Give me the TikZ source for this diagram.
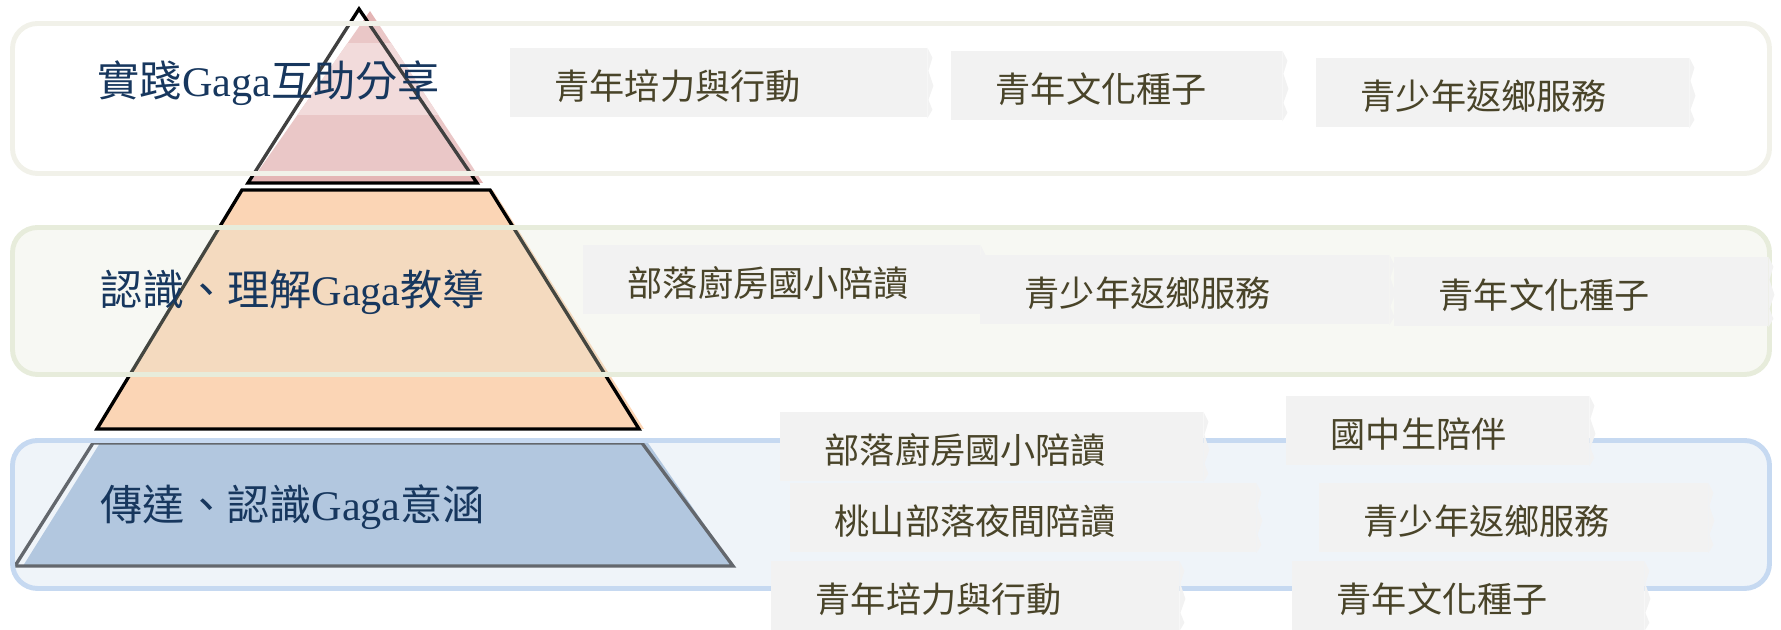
\documentclass[tikz,border=0pt]{standalone}
\usepackage{fontspec}
\setmainfont{Liberation Serif}
\newfontfamily\cjk{Noto Sans CJK TC}
\usetikzlibrary{positioning}

\definecolor{labelblue}{HTML}{17375E}
\definecolor{tagtext}{HTML}{494429}
\definecolor{tagfill}{HTML}{F2F2F2}
\definecolor{pinkfill}{HTML}{E4B5B5}
\definecolor{pinkstripe}{HTML}{EECFCF}
\definecolor{orangefill}{HTML}{FBD5B5}
\definecolor{bluefill}{HTML}{91AFD1}
\definecolor{bandone}{HTML}{F1F1E9}
\definecolor{bandtwo}{HTML}{E7ECDB}
\definecolor{bandtwofill}{HTML}{E4E8D7}
\definecolor{bandthree}{HTML}{C6D9F1}
\definecolor{bandthreefill}{HTML}{DCE6F2}

\begin{document}
\begin{tikzpicture}[
    band/.style={line width=1.4pt, rounded corners=0.25cm},
    pyr/.style={line width=0.95pt, black},
    layer/.style={anchor=west, inner sep=0pt, text=labelblue, font=\fontsize{12}{14}\selectfont},
    tag/.style={anchor=west, fill=tagfill, text=tagtext, font=\cjk\fontsize{10}{12}\selectfont,
        minimum height=0.69cm, inner xsep=0.45cm, inner ysep=0pt, align=left,
        text height=0.36cm, text depth=0.02cm,
        append after command={\pgfextra{\fill[tagfill] (\tikzlastnode.north east) -- ++(0.05,-0.1)
            -- ++(-0.04,-0.13) -- ++(0.05,-0.15) -- ++(-0.05,-0.14) -- ++(0.04,-0.1)
            -- (\tikzlastnode.south east) -- cycle;}}}
    ]
    \useasboundingbox (0,0) rectangle (17.81,6.30);

    % pyramid
    \fill[pinkfill] (3.70,6.19) -- (2.50,4.47) -- (4.83,4.47) -- cycle;
    \begin{scope}
        \clip (3.70,6.19) -- (2.50,4.47) -- (4.83,4.47) -- cycle;
        \fill[pinkstripe] (2,5.15) rectangle (5,5.87);
    \end{scope}
    \draw[pyr] (3.59,6.21) -- (2.48,4.47) -- (4.77,4.47) -- cycle;

    \fill[orangefill] (2.44,4.40) -- (4.93,4.40) -- (6.44,2.01) -- (0.95,2.01) -- cycle;
    \draw[pyr] (2.42,4.40) -- (4.90,4.40) -- (6.39,2.01) -- (0.97,2.01) -- cycle;

    \fill[bluefill] (1.00,1.87) -- (6.48,1.87) -- (7.33,0.64) -- (0.23,0.64) -- cycle;
    \draw[pyr] (0.93,1.87) -- (6.42,1.87) -- (7.33,0.64) -- (0.15,0.64) -- cycle;

    % bands
    \draw[band, draw=bandone, fill=white, fill opacity=0.25] (0.125,4.565) rectangle (17.695,6.065);
    \draw[band, draw=bandtwo, fill=bandtwofill, fill opacity=0.3] (0.125,2.555) rectangle (17.695,4.025);
    \draw[band, draw=bandthree, fill=bandthreefill, fill opacity=0.45] (0.125,0.415) rectangle (17.695,1.895);

    \node[layer] (top) at (0.97,5.47) {{\cjk 實踐}Gaga{\cjk 互助分享}};
    \node[layer] (mid) at (1.00,3.38) {{\cjk 認識、理解}Gaga{\cjk 教導}};
    \node[layer] (base) at (1.00,1.23) {{\cjk 傳達、認識}Gaga{\cjk 意涵}};

    % activities
    \node[tag, text width=3.27cm] (t1) at (5.09,5.47) {青年培力與行動};
    \node[tag, text width=2.41cm] (t2) at (9.50,5.44) {青年文化種子};
    \node[tag, text width=2.83cm] (t3) at (13.15,5.37) {青少年返鄉服務};

    \node[tag, text width=3.07cm] (m1) at (5.82,3.50) {部落廚房國小陪讀};
    \node[tag, text width=3.19cm] (m2) at (9.79,3.40) {青少年返鄉服務};
    \node[tag, text width=2.84cm] (m3) at (13.93,3.38) {青年文化種子};

    \node[tag, text width=3.33cm] (b1) at (7.79,1.83) {部落廚房國小陪讀};
    \node[tag, text width=2.13cm] (b2) at (12.85,1.99) {國中生陪伴};
    \node[tag, text width=3.76cm] (b3) at (7.89,1.12) {桃山部落夜間陪讀};
    \node[tag, text width=2.99cm] (b4) at (13.18,1.12) {青少年返鄉服務};
    \node[tag, text width=3.18cm] (b5) at (7.70,0.34) {青年培力與行動};
    \node[tag, text width=2.62cm] (b6) at (12.91,0.34) {青年文化種子};
\end{tikzpicture}
\end{document}
